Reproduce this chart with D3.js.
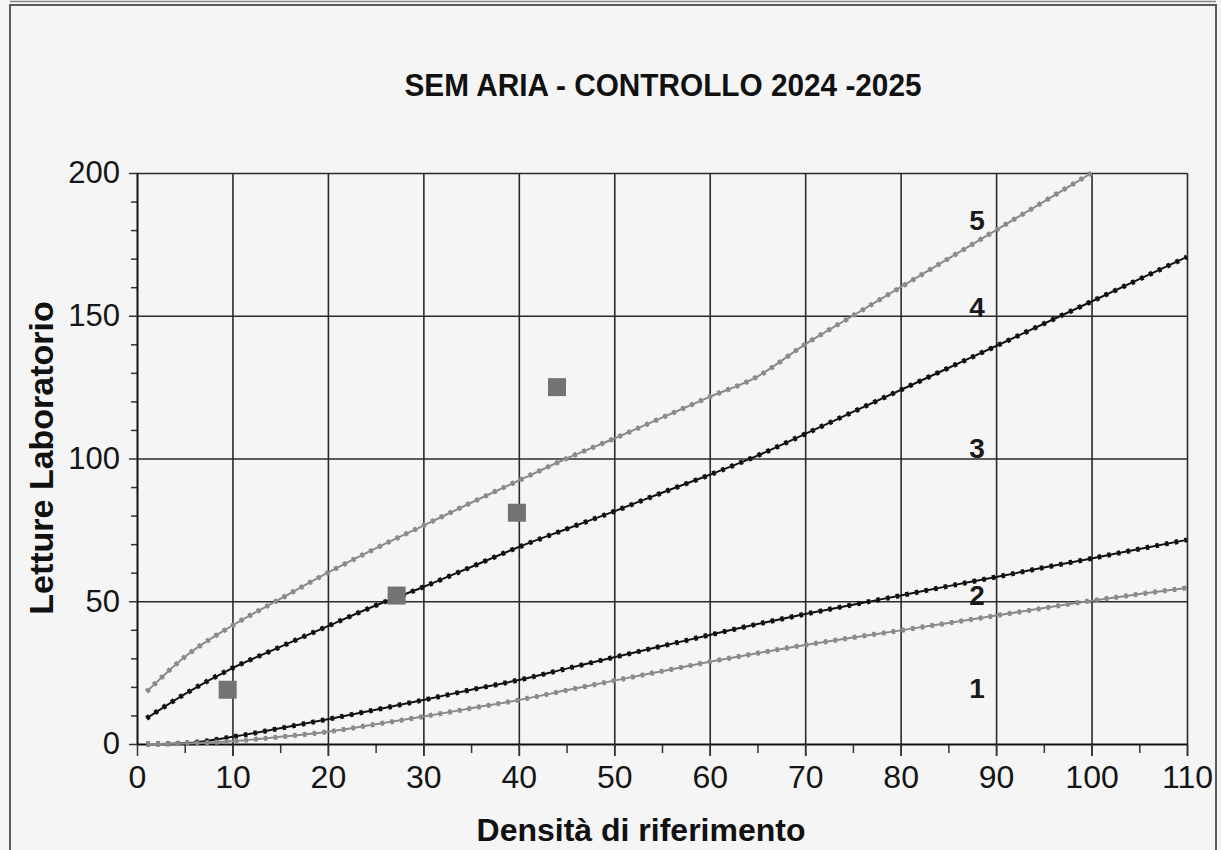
<!DOCTYPE html>
<html>
<head>
  <meta charset="utf-8">
  <title>SEM ARIA - CONTROLLO 2024 -2025</title>
  <style>
    body { margin: 0; background: #f4f4f4; }
    svg { display: block; }
    .tick text { font-family: "Liberation Sans", Arial, sans-serif; fill: #151515; }
  </style>
</head>
<body>
  <script src="https://cdn.jsdelivr.net/npm/d3@7/dist/d3.min.js"></script>
  <script>
    // x positions of the read points (same for all curves)
    var curveX = [1, 5, 10, 15, 20, 25, 30, 35, 40, 45, 50, 55, 60, 65, 70, 75, 80, 85, 90, 95, 100, 105, 110];

    // curve values (top grey, black, lower black, lower grey)
    var curveTop = [18.3, 30.5, 41.5, 50.8, 60, 68.5, 76.5, 84.5, 92.3, 100, 107, 114.3, 121.6, 128.7, 140, 150, 160, 170, 180, 190, 200];
    var curveUpper = [9, 17.5, 26.6, 34, 41.3, 48.5, 55, 62, 69, 75.3, 81.5, 88, 94.3, 101, 108.6, 116.3, 124, 131.7, 139.4, 147.2, 155, 162.8, 170.6];
    var curveLower = [0, 0.3, 2.5, 5.5, 8.7, 12, 15.4, 19, 22.4, 26.4, 30.4, 34.3, 38.2, 42, 45.5, 48.8, 52, 55.3, 58.5, 61.8, 65, 68.3, 71.5];
    var curveBottom = [0, 0.2, 1, 2.5, 4.3, 6.9, 9.6, 12.5, 15.4, 18.8, 22.2, 25.5, 28.8, 31.8, 34.7, 37.3, 39.8, 42.4, 45, 47.6, 50.2, 52.5, 54.7];

    // laboratory readings (grey squares)
    var sampleX = [9.5, 27.2, 39.8, 44];
    var sampleY = [19, 52, 81, 125];

    // zone numbers written on the right
    var zoneLabels = ["1", "2", "3", "4", "5"];
    var zoneLabelY = [16, 48.7, 100.2, 149.6, 180];
    var zoneLabelX = 88;

    var xTicks = [0, 10, 20, 30, 40, 50, 60, 70, 80, 90, 100, 110];
    var xMinor = [5, 15, 25, 35, 45, 55, 65, 75, 85, 95, 105];
    var yTicks = [0, 50, 100, 150, 200];
    var yMinor = [10, 20, 30, 40, 60, 70, 80, 90, 110, 120, 130, 140, 160, 170, 180, 190];

    var W = 1221, H = 850;
    var margin = {top: 173, right: 34, bottom: 106, left: 137},
        width = W - margin.left - margin.right,
        height = H - margin.top - margin.bottom;

    var svg = d3.select("body").append("svg")
        .attr("width", W)
        .attr("height", H);

    // scanned page frame
    svg.append("rect")
      .attr("x", 10).attr("y", 5)
      .attr("width", 1206).attr("height", 900)
      .attr("fill", "#f5f5f5")
      .attr("stroke", "#5a5a5a")
      .attr("stroke-width", 2);
    svg.append("line")
      .attr("x1", 10).attr("x2", 1216)
      .attr("y1", 1.5).attr("y2", 1.5)
      .attr("stroke", "#888").attr("stroke-width", 1.5);

    var g = svg.append("g")
      .attr("transform", "translate(" + margin.left + "," + margin.top + ")");

    var x = d3.scaleLinear().domain([0, 110]).range([0, width]);
    var y = d3.scaleLinear().domain([0, 200]).range([height, 0]);

    // vertical grid lines (poking a bit below the axis)
    g.append("g")
      .attr("transform", "translate(0," + (height + 12) + ")")
      .call(d3.axisBottom(x).tickValues(xTicks.slice(1)).tickSize(-height - 12).tickFormat(""))
      .call(function (s) {
        s.select(".domain").remove();
        s.selectAll("line").attr("stroke", "#2a2a2a").attr("stroke-width", 1.6);
      });

    // horizontal grid lines
    g.append("g")
      .call(d3.axisLeft(y).tickValues(yTicks.slice(1)).tickSize(-width).tickFormat(""))
      .call(function (s) {
        s.select(".domain").remove();
        s.selectAll("line").attr("stroke", "#2a2a2a").attr("stroke-width", 1.6);
      });

    // minor ticks
    g.append("g")
      .attr("transform", "translate(0," + height + ")")
      .call(d3.axisBottom(x).tickValues(xMinor).tickSize(9).tickFormat(""))
      .call(function (s) {
        s.select(".domain").remove();
        s.selectAll("line").attr("stroke", "#333").attr("stroke-width", 1.5);
      });
    g.append("g")
      .call(d3.axisLeft(y).tickValues(yMinor).tickSize(6).tickFormat(""))
      .call(function (s) {
        s.select(".domain").remove();
        s.selectAll("line").attr("stroke", "#333").attr("stroke-width", 1.5);
      });

    // X axis
    g.append("g")
      .attr("transform", "translate(0," + height + ")")
      .call(d3.axisBottom(x).tickValues(xTicks).tickSize(12).tickPadding(9).tickSizeOuter(0))
      .call(function (s) {
        s.select(".domain").attr("stroke", "#111").attr("stroke-width", 2);
        s.selectAll("line").attr("stroke", "#333").attr("stroke-width", 1.5);
        s.selectAll("text").attr("font-size", "32px");
      });

    // Y axis
    g.append("g")
      .call(d3.axisLeft(y).tickValues(yTicks).tickSize(8).tickPadding(9).tickSizeOuter(0))
      .call(function (s) {
        s.select(".domain").attr("stroke", "#111").attr("stroke-width", 2);
        s.selectAll("line").attr("stroke", "#333").attr("stroke-width", 1.5);
        s.selectAll("text").attr("font-size", "31px");
      });

    // curves
    var series = [
      {values: curveTop, color: "#8a8a8a"},
      {values: curveUpper, color: "#111"},
      {values: curveLower, color: "#111"},
      {values: curveBottom, color: "#8a8a8a"}
    ];

    var line = d3.line()
      .x(function (d) { return x(d[0]); })
      .y(function (d) { return y(d[1]); })
      .curve(d3.curveMonotoneX);

    series.forEach(function (s) {
      var pts = s.values.map(function (v, i) { return [curveX[i], v]; });
      g.append("path")
        .attr("d", line(pts))
        .attr("fill", "none")
        .attr("stroke", s.color)
        .attr("stroke-width", 2);
      // small beads along the line, like the marker of every point
      g.append("path")
        .attr("d", line(pts))
        .attr("fill", "none")
        .attr("stroke", s.color)
        .attr("stroke-width", 5)
        .attr("stroke-dasharray", "3.5 6.3");
    });

    // sample squares
    g.selectAll("rect.sample")
      .data(sampleX)
      .enter().append("rect")
      .attr("class", "sample")
      .attr("x", function (d) { return x(d) - 9; })
      .attr("y", function (d, i) { return y(sampleY[i]) - 9; })
      .attr("width", 18)
      .attr("height", 18)
      .attr("fill", "#737373");

    // zone numbers
    g.selectAll("text.zone")
      .data(zoneLabels)
      .enter().append("text")
      .attr("class", "zone")
      .attr("x", x(zoneLabelX))
      .attr("y", function (d, i) { return y(zoneLabelY[i]); })
      .attr("text-anchor", "middle")
      .attr("font-family", "Liberation Sans, Arial, sans-serif")
      .attr("font-weight", "bold")
      .attr("font-size", "28px")
      .attr("fill", "#1a1a1a")
      .text(function (d) { return d; });

    // title
    svg.append("text")
      .attr("x", 663)
      .attr("y", 96)
      .attr("text-anchor", "middle")
      .attr("font-family", "Liberation Sans Narrow, Liberation Sans, Arial, sans-serif")
      .attr("font-weight", "bold")
      .attr("font-size", "32px")
      .attr("textLength", 517)
      .attr("lengthAdjust", "spacingAndGlyphs")
      .attr("fill", "#111")
      .text("SEM ARIA - CONTROLLO 2024 -2025");

    // axis titles
    svg.append("text")
      .attr("x", 641)
      .attr("y", 841)
      .attr("text-anchor", "middle")
      .attr("font-family", "Liberation Sans, Arial, sans-serif")
      .attr("font-weight", "bold")
      .attr("font-size", "32px")
      .attr("fill", "#111")
      .text("Densità di riferimento");

    svg.append("text")
      .attr("transform", "translate(53,458) rotate(-90)")
      .attr("text-anchor", "middle")
      .attr("font-family", "Liberation Sans, Arial, sans-serif")
      .attr("font-weight", "bold")
      .attr("font-size", "34px")
      .attr("fill", "#111")
      .text("Letture Laboratorio");
  </script>
</body>
</html>
